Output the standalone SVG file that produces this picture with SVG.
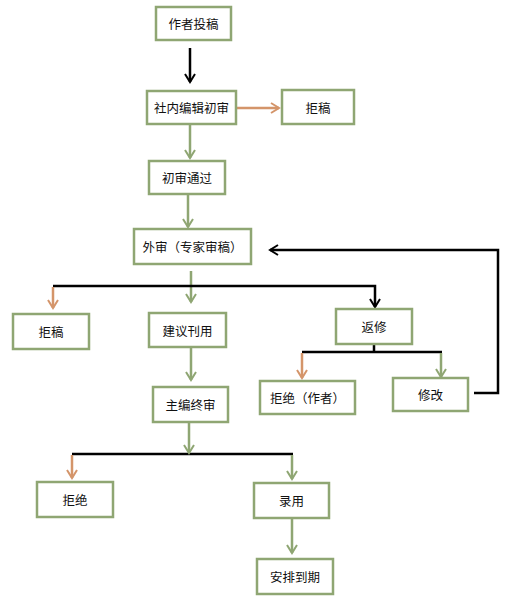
<svg xmlns="http://www.w3.org/2000/svg" width="508" height="606" viewBox="0 0 508 606">
<style>
.box{fill:#fff;stroke:#8fa673;stroke-width:2.5}
.t{font-family:"Noto Sans CJK SC","Liberation Sans",sans-serif;font-size:12.5px;fill:#111;text-anchor:middle;dominant-baseline:central}
.g{stroke:#8fa673;stroke-width:2.5;fill:none}
.o{stroke:#d4956a;stroke-width:2.5;fill:none}
.k{stroke:#000;stroke-width:2.5;fill:none}
</style>
<defs>
<marker id="ag" viewBox="0 0 12 12" refX="10" refY="6" markerWidth="12" markerHeight="12" markerUnits="userSpaceOnUse" orient="auto"><polyline points="2,1 10,6 2,11" fill="none" stroke="#8fa673" stroke-width="2"/></marker>
<marker id="ao" viewBox="0 0 12 12" refX="10" refY="6" markerWidth="12" markerHeight="12" markerUnits="userSpaceOnUse" orient="auto"><polyline points="2,1 10,6 2,11" fill="none" stroke="#d4956a" stroke-width="2"/></marker>
<marker id="ak" viewBox="0 0 12 12" refX="10" refY="6" markerWidth="12" markerHeight="12" markerUnits="userSpaceOnUse" orient="auto"><polyline points="2,1 10,6 2,11" fill="none" stroke="#000" stroke-width="2"/></marker>
</defs>
<rect width="508" height="606" fill="#fff"/>
<g id="connectors">
<line class="k" x1="190" y1="48" x2="190" y2="82" marker-end="url(#ak)"/>
<line class="o" x1="237" y1="108" x2="279" y2="108" marker-end="url(#ao)"/>
<line class="g" x1="190" y1="125" x2="190" y2="158" marker-end="url(#ag)"/>
<line class="g" x1="188" y1="195" x2="188" y2="227" marker-end="url(#ag)"/>
<polyline class="k" points="474,393 498,393 498,250 270,250" marker-end="url(#ak)"/>
<line class="g" x1="191" y1="271" x2="191" y2="302" marker-end="url(#ag)"/>
<polyline class="k" points="53,286 375,286 375,307" marker-end="url(#ak)"/>
<line class="o" x1="53" y1="287" x2="53" y2="308" marker-end="url(#ao)"/>
<line class="k" x1="374" y1="345" x2="374" y2="352"/>
<line class="k" x1="302" y1="352" x2="442" y2="352"/>
<line class="o" x1="302" y1="353" x2="302" y2="378" marker-end="url(#ao)"/>
<line class="g" x1="441" y1="353" x2="441" y2="377" marker-end="url(#ag)"/>
<line class="g" x1="191" y1="348" x2="191" y2="380" marker-end="url(#ag)"/>
<line class="k" x1="72" y1="454" x2="293" y2="454"/>
<line class="g" x1="189" y1="423" x2="189" y2="453" marker-end="url(#ag)"/>
<line class="o" x1="72" y1="455" x2="72" y2="478" marker-end="url(#ao)"/>
<line class="g" x1="292" y1="455" x2="292" y2="479" marker-end="url(#ag)"/>
<line class="g" x1="292" y1="519" x2="292" y2="553" marker-end="url(#ag)"/>
</g>
<g id="n1"><rect class="box" x="156" y="7" width="75" height="33"/><text class="t" x="193.5" y="23.5">作者投稿</text></g>
<g id="n2"><rect class="box" x="147" y="91" width="89" height="33"/><text class="t" x="191.5" y="107.5">社内编辑初审</text></g>
<g id="n3"><rect class="box" x="282" y="90" width="72" height="34"/><text class="t" x="318" y="107">拒稿</text></g>
<g id="n4"><rect class="box" x="149" y="161" width="76" height="33"/><text class="t" x="187" y="177.5">初审通过</text></g>
<g id="n5"><rect class="box" x="134" y="229" width="117" height="35"/><text class="t" x="192.5" y="246.5">外审（专家审稿）</text></g>
<g id="n6"><rect class="box" x="13" y="314" width="76" height="35"/><text class="t" x="51" y="331.5">拒稿</text></g>
<g id="n7"><rect class="box" x="149" y="313" width="77" height="34"/><text class="t" x="187.5" y="330">建议刊用</text></g>
<g id="n8"><rect class="box" x="336" y="309" width="76" height="35"/><text class="t" x="374" y="326.5">返修</text></g>
<g id="n9"><rect class="box" x="260" y="381" width="95" height="33"/><text class="t" x="307.5" y="397.5">拒绝（作者）</text></g>
<g id="n10"><rect class="box" x="393" y="378" width="75" height="33"/><text class="t" x="430.5" y="394.5">修改</text></g>
<g id="n11"><rect class="box" x="153" y="387" width="75" height="35"/><text class="t" x="190.5" y="404.5">主编终审</text></g>
<g id="n12"><rect class="box" x="37" y="482" width="76" height="35"/><text class="t" x="75" y="499.5">拒绝</text></g>
<g id="n13"><rect class="box" x="254" y="483" width="75" height="35"/><text class="t" x="291.5" y="500.5">录用</text></g>
<g id="n14"><rect class="box" x="257" y="559" width="76" height="35"/><text class="t" x="295" y="576.5">安排到期</text></g>
</svg>
